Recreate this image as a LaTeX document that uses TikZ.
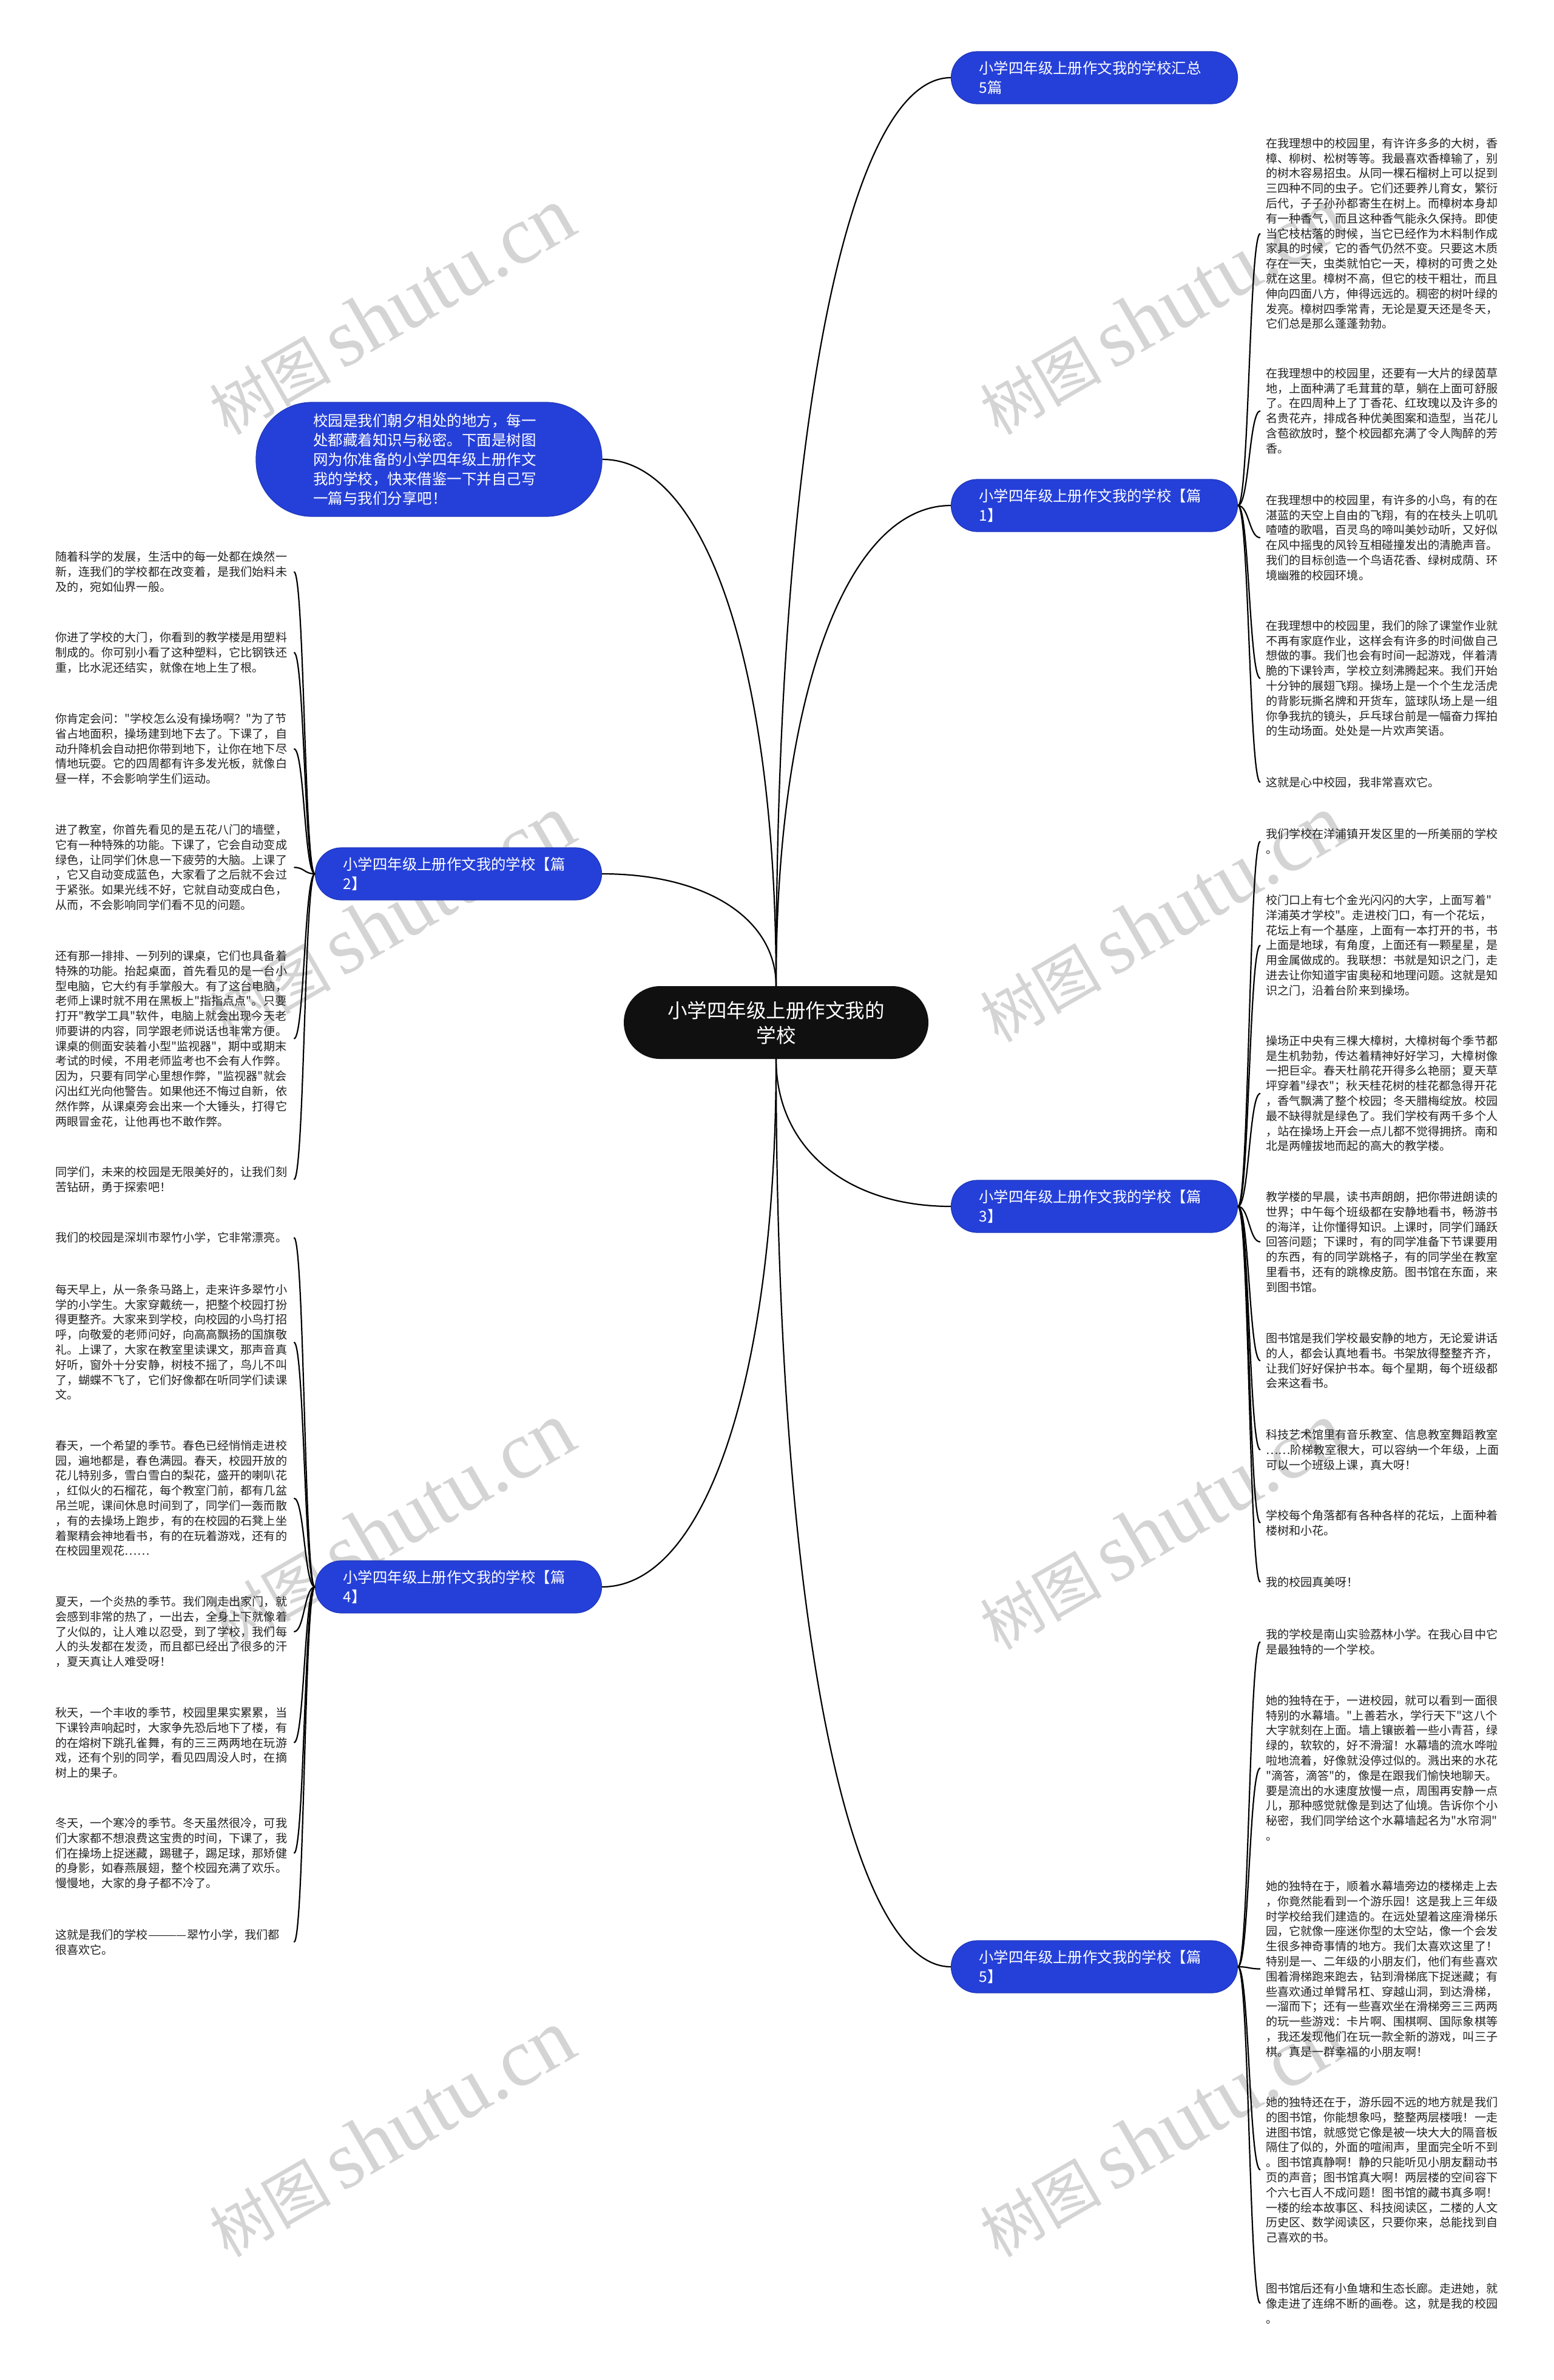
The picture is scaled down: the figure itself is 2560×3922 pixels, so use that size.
\documentclass[tikz,border=0pt]{standalone}
\usepackage{fontspec}
\newfontfamily\mmcjk{Noto Sans CJK SC}
\newfontfamily\wmlatin{Liberation Serif}
\usetikzlibrary{calc}
\definecolor{mmblue}{RGB}{37,64,217}
\definecolor{mmroot}{RGB}{16,16,16}
\definecolor{mmtext}{RGB}{34,34,34}
\definecolor{mmwm}{RGB}{212,212,212}
\newcommand\mmLeafFont{\mmcjk\fontsize{19.1}{24.8}\selectfont}
\newcommand\mmBranchFont{\mmcjk\fontsize{24.4}{31.5}\selectfont}
\newcommand\mmRootFont{\mmcjk\fontsize{32.5}{41}\selectfont}
\newcommand\mmIntroFont{\mmcjk\fontsize{24.5}{32}\selectfont}
\newcommand\mmRootLink[2]{\draw[mmline] (#1) .. controls ($(#1)!0.6!(#1 |- #2)$) and ($(#2)!0.6!(#1 |- #2)$) .. (#2);}
\newcommand\mmLeafLink[2]{\draw[mmline] (#1) .. controls ($(#1)!0.5!(#2 |- #1)$) and ($(#2)!0.5!(#1 |- #2)$) .. (#2);}
\newcommand\mmWater[2]{\node[mmwmark] at (#1,#2) {{\mmcjk\fontsize{100}{100}\selectfont 树图}\hspace{18pt}{\wmlatin\fontsize{135}{135}\selectfont shutu.cn}};}
\begin{document}
\begin{tikzpicture}[x=1pt,y=-1pt,
  mmline/.style={draw=black, line width=2.2pt},
  leafbox/.style={inner xsep=9pt, inner ysep=0pt, text width=384pt, align=left, font=\mmLeafFont, text=mmtext, anchor=north west},
  branchbox/.style={fill=mmblue, draw=mmblue!85!black, line width=1.2pt, rounded corners=43pt, minimum width=472pt, minimum height=86pt, text width=380pt, align=left, font=\mmBranchFont, text=white, inner sep=0pt},
  introbox/.style={fill=mmblue, draw=mmblue!85!black, line width=1.2pt, rounded corners=92pt, minimum width=570pt, minimum height=188pt, text width=382pt, align=left, font=\mmIntroFont, text=white, inner sep=0pt},
  rootbox/.style={fill=mmroot, rounded corners=60pt, minimum width=502pt, minimum height=120pt, align=center, font=\mmRootFont, text=white, inner sep=0pt},
  mmwmark/.style={text=mmwm, rotate=30, inner sep=0pt}
]
\useasboundingbox (0,0) rectangle (2560,3922);
\fill[white] (0,0) rectangle (2560,3922);

% watermarks
\mmWater{645}{513}
\mmWater{1915}{513}
\mmWater{645}{1514}
\mmWater{1915}{1514}
\mmWater{645}{2515}
\mmWater{1915}{2515}
\mmWater{645}{3516}
\mmWater{1915}{3516}

% root and branches
\node[rootbox] (root) at (1279,1685) {小学四年级上册作文我的\\学校};
\node[branchbox] (sumn) at (1803.5,128) {小学四年级上册作文我的学校汇总\\5篇};
\node[branchbox] (b1) at (1803.5,833) {小学四年级上册作文我的学校【篇\\1】};
\node[introbox] (intro) at (707,757) {校园是我们朝夕相处的地方，每一\\处都藏着知识与秘密。下面是树图\\网为你准备的小学四年级上册作文\\我的学校，快来借鉴一下并自己写\\一篇与我们分享吧！};
\node[branchbox] (b2) at (755.5,1440) {小学四年级上册作文我的学校【篇\\2】};
\node[branchbox] (b3) at (1803.5,1988) {小学四年级上册作文我的学校【篇\\3】};
\node[branchbox] (b4) at (755.5,2615) {小学四年级上册作文我的学校【篇\\4】};
\node[branchbox] (b5) at (1803.5,3241) {小学四年级上册作文我的学校【篇\\5】};

% leaves 1
\node[leafbox] (r1a) at (2077,227) {在我理想中的校园里，有许许多多的大树，香\\樟、柳树、松树等等。我最喜欢香樟输了，别\\的树木容易招虫。从同一棵石榴树上可以捉到\\三四种不同的虫子。它们还要养儿育女，繁衍\\后代，子子孙孙都寄生在树上。而樟树本身却\\有一种香气，而且这种香气能永久保持。即使\\当它枝枯落的时候，当它已经作为木料制作成\\家具的时候，它的香气仍然不变。只要这木质\\存在一天，虫类就怕它一天，樟树的可贵之处\\就在这里。樟树不高，但它的枝干粗壮，而且\\伸向四面八方，伸得远远的。稠密的树叶绿的\\发亮。樟树四季常青，无论是夏天还是冬天，\\它们总是那么蓬蓬勃勃。};
\node[leafbox] (r1b) at (2077,606) {在我理想中的校园里，还要有一大片的绿茵草\\地，上面种满了毛茸茸的草，躺在上面可舒服\\了。在四周种上了丁香花、红玫瑰以及许多的\\名贵花卉，排成各种优美图案和造型，当花儿\\含苞欲放时，整个校园都充满了令人陶醉的芳\\香。};
\node[leafbox] (r1c) at (2077,815) {在我理想中的校园里，有许多的小鸟，有的在\\湛蓝的天空上自由的飞翔，有的在枝头上叽叽\\喳喳的歌唱，百灵鸟的啼叫美妙动听，又好似\\在风中摇曳的风铃互相碰撞发出的清脆声音。\\我们的目标创造一个鸟语花香、绿树成荫、环\\境幽雅的校园环境。};
\node[leafbox] (r1d) at (2077,1022) {在我理想中的校园里，我们的除了课堂作业就\\不再有家庭作业，这样会有许多的时间做自己\\想做的事。我们也会有时间一起游戏，伴着清\\脆的下课铃声，学校立刻沸腾起来。我们开始\\十分钟的展翅飞翔。操场上是一个个生龙活虎\\的背影玩撕名牌和开货车，篮球队场上是一组\\你争我抗的镜头，乒乓球台前是一幅奋力挥拍\\的生动场面。处处是一片欢声笑语。};
\node[leafbox] (r1e) at (2077,1280) {这就是心中校园，我非常喜欢它。};

% leaves 2
\node[leafbox] (l2a) at (82,908) {随着科学的发展，生活中的每一处都在焕然一\\新，连我们的学校都在改变着，是我们始料未\\及的，宛如仙界一般。};
\node[leafbox] (l2b) at (82,1041) {你进了学校的大门，你看到的教学楼是用塑料\\制成的。你可别小看了这种塑料，它比钢铁还\\重，比水泥还结实，就像在地上生了根。};
\node[leafbox] (l2c) at (82,1175) {你肯定会问："学校怎么没有操场啊？"为了节\\省占地面积，操场建到地下去了。下课了，自\\动升降机会自动把你带到地下，让你在地下尽\\情地玩耍。它的四周都有许多发光板，就像白\\昼一样，不会影响学生们运动。};
\node[leafbox] (l2d) at (82,1358) {进了教室，你首先看见的是五花八门的墙壁，\\它有一种特殊的功能。下课了，它会自动变成\\绿色，让同学们休息一下疲劳的大脑。上课了\\，它又自动变成蓝色，大家看了之后就不会过\\于紧张。如果光线不好，它就自动变成白色，\\从而，不会影响同学们看不见的问题。};
\node[leafbox] (l2e) at (82,1566) {还有那一排排、一列列的课桌，它们也具备着\\特殊的功能。抬起桌面，首先看见的是一台小\\型电脑，它大约有手掌般大。有了这台电脑，\\老师上课时就不用在黑板上"指指点点"。只要\\打开"教学工具"软件，电脑上就会出现今天老\\师要讲的内容，同学跟老师说话也非常方便。\\课桌的侧面安装着小型"监视器"，期中或期末\\考试的时候，不用老师监考也不会有人作弊。\\因为，只要有同学心里想作弊，"监视器"就会\\闪出红光向他警告。如果他还不悔过自新，依\\然作弊，从课桌旁会出来一个大锤头，打得它\\两眼冒金花，让他再也不敢作弊。};
\node[leafbox] (l2f) at (82,1922) {同学们，未来的校园是无限美好的，让我们刻\\苦钻研，勇于探索吧！};

% leaves 3
\node[leafbox] (r3a) at (2077,1365) {我们学校在洋浦镇开发区里的一所美丽的学校\\。};
\node[leafbox] (r3b) at (2077,1474) {校门口上有七个金光闪闪的大字，上面写着"\\洋浦英才学校"。走进校门口，有一个花坛，\\花坛上有一个基座，上面有一本打开的书，书\\上面是地球，有角度，上面还有一颗星星，是\\用金属做成的。我联想：书就是知识之门，走\\进去让你知道宇宙奥秘和地理问题。这就是知\\识之门，沿着台阶来到操场。};
\node[leafbox] (r3c) at (2077,1706) {操场正中央有三棵大樟树，大樟树每个季节都\\是生机勃勃，传达着精神好好学习，大樟树像\\一把巨伞。春天杜鹃花开得多么艳丽；夏天草\\坪穿着"绿衣"；秋天桂花树的桂花都急得开花\\，香气飘满了整个校园；冬天腊梅绽放。校园\\最不缺得就是绿色了。我们学校有两千多个人\\，站在操场上开会一点儿都不觉得拥挤。南和\\北是两幢拔地而起的高大的教学楼。};
\node[leafbox] (r3d) at (2077,1963) {教学楼的早晨，读书声朗朗，把你带进朗读的\\世界；中午每个班级都在安静地看书，畅游书\\的海洋，让你懂得知识。上课时，同学们踊跃\\回答问题；下课时，有的同学准备下节课要用\\的东西，有的同学跳格子，有的同学坐在教室\\里看书，还有的跳橡皮筋。图书馆在东面，来\\到图书馆。};
\node[leafbox] (r3e) at (2077,2196) {图书馆是我们学校最安静的地方，无论爱讲话\\的人，都会认真地看书。书架放得整整齐齐，\\让我们好好保护书本。每个星期，每个班级都\\会来这看书。};
\node[leafbox] (r3f) at (2077,2355) {科技艺术馆里有音乐教室、信息教室舞蹈教室\\……阶梯教室很大，可以容纳一个年级，上面\\可以一个班级上课，真大呀！};
\node[leafbox] (r3g) at (2077,2488) {学校每个角落都有各种各样的花坛，上面种着\\楼树和小花。};
\node[leafbox] (r3h) at (2077,2598) {我的校园真美呀！};

% leaves 4
\node[leafbox] (l4a) at (82,2030) {我们的校园是深圳市翠竹小学，它非常漂亮。};
\node[leafbox] (l4b) at (82,2116) {每天早上，从一条条马路上，走来许多翠竹小\\学的小学生。大家穿戴统一，把整个校园打扮\\得更整齐。大家来到学校，向校园的小鸟打招\\呼，向敬爱的老师问好，向高高飘扬的国旗敬\\礼。上课了，大家在教室里读课文，那声音真\\好听，窗外十分安静，树枝不摇了，鸟儿不叫\\了，蝴蝶不飞了，它们好像都在听同学们读课\\文。};
\node[leafbox] (l4c) at (82,2373) {春天，一个希望的季节。春色已经悄悄走进校\\园，遍地都是，春色满园。春天，校园开放的\\花儿特别多，雪白雪白的梨花，盛开的喇叭花\\，红似火的石榴花，每个教室门前，都有几盆\\吊兰呢，课间休息时间到了，同学们一轰而散\\，有的去操场上跑步，有的在校园的石凳上坐\\着聚精会神地看书，有的在玩着游戏，还有的\\在校园里观花……};
\node[leafbox] (l4d) at (82,2630) {夏天，一个炎热的季节。我们刚走出家门，就\\会感到非常的热了，一出去，全身上下就像着\\了火似的，让人难以忍受，到了学校，我们每\\人的头发都在发烫，而且都已经出了很多的汗\\，夏天真让人难受呀！};
\node[leafbox] (l4e) at (82,2813) {秋天，一个丰收的季节，校园里果实累累，当\\下课铃声响起时，大家争先恐后地下了楼，有\\的在熔树下跳孔雀舞，有的三三两两地在玩游\\戏，还有个别的同学，看见四周没人时，在摘\\树上的果子。};
\node[leafbox] (l4f) at (82,2995) {冬天，一个寒冷的季节。冬天虽然很冷，可我\\们大家都不想浪费这宝贵的时间，下课了，我\\们在操场上捉迷藏，踢毽子，踢足球，那矫健\\的身影，如春燕展翅，整个校园充满了欢乐。\\慢慢地，大家的身子都不冷了。};
\node[leafbox] (l4g) at (82,3179) {这就是我们的学校————翠竹小学，我们都\\很喜欢它。};

% leaves 5
\node[leafbox] (r5a) at (2077,2684) {我的学校是南山实验荔林小学。在我心目中它\\是最独特的一个学校。};
\node[leafbox] (r5b) at (2077,2793) {她的独特在于，一进校园，就可以看到一面很\\特别的水幕墙。"上善若水，学行天下"这八个\\大字就刻在上面。墙上镶嵌着一些小青苔，绿\\绿的，软软的，好不滑溜！水幕墙的流水哗啦\\啦地流着，好像就没停过似的。溅出来的水花\\"滴答，滴答"的，像是在跟我们愉快地聊天。\\要是流出的水速度放慢一点，周围再安静一点\\儿，那种感觉就像是到达了仙境。告诉你个小\\秘密，我们同学给这个水幕墙起名为"水帘洞"\\。};
\node[leafbox] (r5c) at (2077,3099) {她的独特在于，顺着水幕墙旁边的楼梯走上去\\，你竟然能看到一个游乐园！这是我上三年级\\时学校给我们建造的。在远处望着这座滑梯乐\\园，它就像一座迷你型的太空站，像一个会发\\生很多神奇事情的地方。我们太喜欢这里了！\\特别是一、二年级的小朋友们，他们有些喜欢\\围着滑梯跑来跑去，钻到滑梯底下捉迷藏；有\\些喜欢通过单臂吊杠、穿越山洞，到达滑梯，\\一溜而下；还有一些喜欢坐在滑梯旁三三两两\\的玩一些游戏：卡片啊、围棋啊、国际象棋等\\，我还发现他们在玩一款全新的游戏，叫三子\\棋。真是一群幸福的小朋友啊！};
\node[leafbox] (r5d) at (2077,3455) {她的独特还在于，游乐园不远的地方就是我们\\的图书馆，你能想象吗，整整两层楼哦！一走\\进图书馆，就感觉它像是被一块大大的隔音板\\隔住了似的，外面的喧闹声，里面完全听不到\\。图书馆真静啊！静的只能听见小朋友翻动书\\页的声音；图书馆真大啊！两层楼的空间容下\\个六七百人不成问题！图书馆的藏书真多啊！\\一楼的绘本故事区、科技阅读区，二楼的人文\\历史区、数学阅读区，只要你来，总能找到自\\己喜欢的书。};
\node[leafbox] (r5e) at (2077,3762) {图书馆后还有小鱼塘和生态长廊。走进她，就\\像走进了连绵不断的画卷。这，就是我的校园\\。};

% root links
\mmRootLink{root.north}{sumn.west}
\mmRootLink{root.north}{b1.west}
\mmRootLink{root.north}{intro.east}
\mmRootLink{root.north}{b2.east}
\mmRootLink{root.south}{b3.west}
\mmRootLink{root.south}{b4.east}
\mmRootLink{root.south}{b5.west}

% leaf links
\foreach \l in {r1a,r1b,r1c,r1d,r1e} {\mmLeafLink{b1.east}{\l.west}}
\foreach \l in {l2a,l2b,l2c,l2d,l2e,l2f} {\mmLeafLink{b2.west}{\l.east}}
\foreach \l in {r3a,r3b,r3c,r3d,r3e,r3f,r3g,r3h} {\mmLeafLink{b3.east}{\l.west}}
\foreach \l in {l4a,l4b,l4c,l4d,l4e,l4f,l4g} {\mmLeafLink{b4.west}{\l.east}}
\foreach \l in {r5a,r5b,r5c,r5d,r5e} {\mmLeafLink{b5.east}{\l.west}}
\end{tikzpicture}
\end{document}
